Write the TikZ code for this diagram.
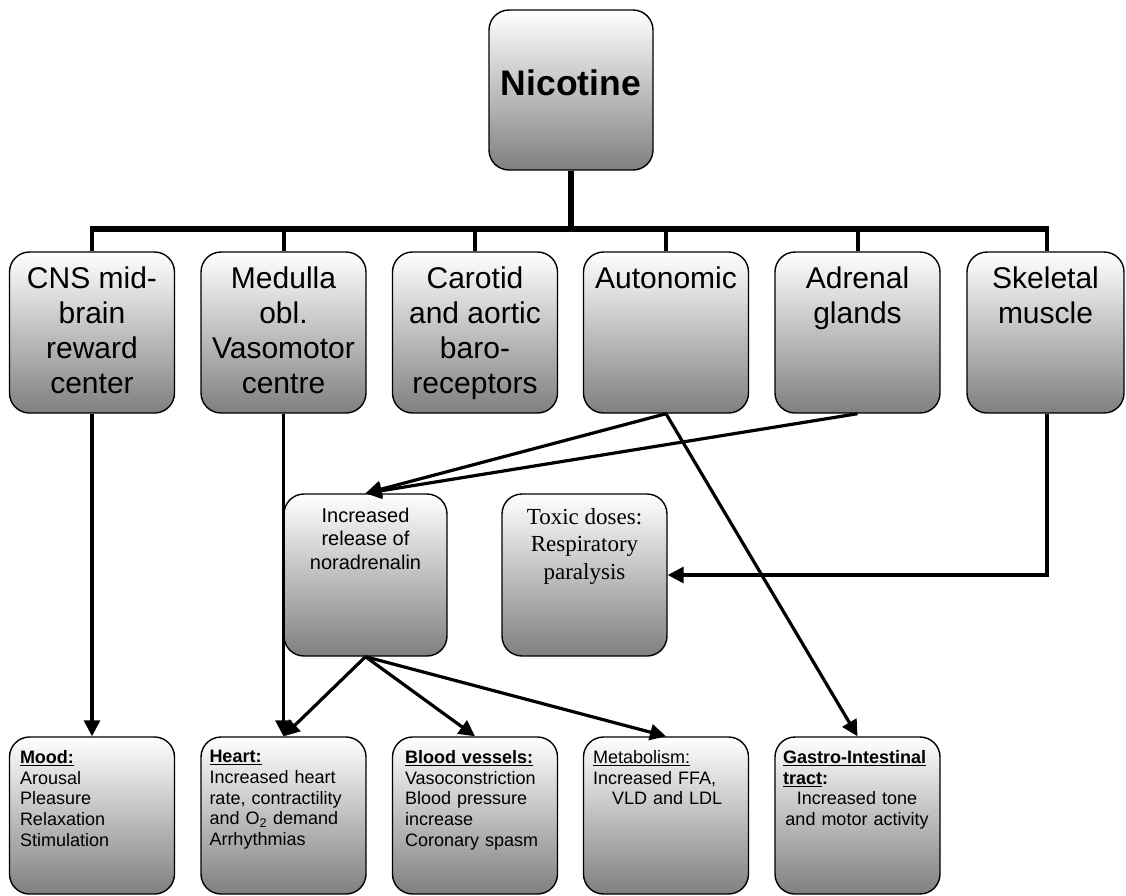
\documentclass[tikz,border=0pt]{standalone}
\usepackage{fontspec}
\setmainfont{Liberation Sans}
\newfontfamily\tnr{Liberation Serif}
\usetikzlibrary{arrows.meta}
\tikzset{
  box/.style={draw, line width=1.4pt, rounded corners=20pt, top color=white, middle color=black!14, bottom color=black!50, inner sep=0pt, minimum width=165pt},
  rowone/.style={box, minimum height=161pt},
  midbox/.style={box, minimum height=162pt},
  botbox/.style={box, minimum height=157pt},
  toptext/.style={anchor=north, inner sep=0pt, align=center, font=\fontsize{30}{35}\selectfont},
  bottext/.style={anchor=north west, inner sep=0pt, text width=148pt, align=left, font=\fontsize{18}{20.7}\selectfont},
  arr/.style={line width=3.2pt, -{Triangle[length=16pt,width=16pt]}},
  busline/.style={line width=6pt},
  branch/.style={line width=4pt},
}
\begin{document}
\begin{tikzpicture}[x=1pt,y=-1pt]
\useasboundingbox (0,0) rectangle (1126,895);
% top
\node[box, minimum width=164pt, minimum height=160pt] (nic) at (571,90) {};
\node[anchor=base, inner sep=0pt, font=\bfseries\fontsize{35.5}{40}\selectfont] (nictext) at (571,95) {Nicotine};
% row one
\node[rowone] (cns) at (92,332.5) {};
\node[rowone] (med) at (283.5,332.5) {};
\node[rowone] (car) at (475,332.5) {};
\node[rowone] (aut) at (666,332.5) {};
\node[rowone] (adr) at (857.5,332.5) {};
\node[rowone, minimum width=157pt] (skel) at (1045.5,332.5) {};
\node[toptext] (cnst) at ([yshift=-15pt]cns.north) {CNS mid-\\brain\\reward\\center};
\node[toptext] (medt) at ([yshift=-15pt]med.north) {Medulla\\obl.\\Vasomotor\\centre};
\node[toptext] (cart) at ([yshift=-15pt]car.north) {Carotid\\and aortic\\baro-\\receptors};
\node[toptext] (autt) at ([yshift=-15pt]aut.north) {Autonomic};
\node[toptext] (adrt) at ([yshift=-15pt]adr.north) {Adrenal\\glands};
\node[toptext] (skelt) at ([yshift=-15pt]skel.north) {Skeletal\\muscle};
% middle
\node[midbox, minimum width=163pt] (nor) at (365.5,575) {};
\node[midbox] (tox) at (584.5,575) {};
\node[anchor=north, inner sep=0pt, align=center, font=\fontsize{20}{23.3}\selectfont] (nort) at ([yshift=-14.5pt]nor.north) {Increased\\release of\\noradrenalin};
\node[anchor=north, inner sep=0pt, align=center, font=\tnr\fontsize{23}{27.5}\selectfont] (toxt) at ([yshift=-15pt]tox.north) {Toxic doses:\\Respiratory\\paralysis};
% bottom
\node[botbox] (mood) at (92,815.5) {};
\node[botbox] (heart) at (283.5,815.5) {};
\node[botbox] (blood) at (475,815.5) {};
\node[botbox] (meta) at (666,815.5) {};
\node[botbox] (gi) at (857.5,815.5) {};
\node[bottext] (moodt) at ([xshift=11pt,yshift=-14pt]mood.north west) {\textbf{\underline{Mood:}}\\Arousal\\Pleasure\\Relaxation\\Stimulation};
\node[bottext] (heartt) at ([xshift=9pt,yshift=-14pt]heart.north west) {\textbf{\underline{Heart:}}\\Increased heart\\rate, contractility\\and O\textsubscript{2} demand\\Arrhythmias};
\node[bottext] (bloodt) at ([xshift=13pt,yshift=-14pt]blood.north west) {\textbf{\underline{Blood vessels:}}\\Vasoconstriction\\Blood pressure\\increase\\Coronary spasm};
\node[bottext] (metat) at ([xshift=10pt,yshift=-14pt]meta.north west) {\underline{Metabolism:}\\Increased FFA,\\\hspace*{19pt}VLD and LDL};
\node[bottext] (git) at ([xshift=8.5pt,yshift=-14pt]gi.north west) {\textbf{\underline{Gastro-Intestinal}}\\\textbf{\underline{tract}:}\\\makebox[148pt]{Increased tone}\\\makebox[148pt]{and motor activity}};
% bus
\coordinate (bus) at (571,229);
\draw[busline] (nic.south) -- (bus);
\draw[busline] ([xshift=-2pt]cns.north |- bus) -- ([xshift=3.5pt]skel.north |- bus);
\draw[branch] (cns.north |- bus) -- (cns.north);
\draw[branch] (med.north |- bus) -- (med.north);
\draw[branch] (car.north |- bus) -- (car.north);
\draw[branch] (aut.north |- bus) -- (aut.north);
\draw[branch] (adr.north |- bus) -- (adr.north);
\draw[branch] ([xshift=1.5pt]skel.north |- bus) -- ([xshift=1.5pt]skel.north);
% arrows
\draw[arr] (cns.south) -- (mood.north);
\draw[arr] (med.south) -- (heart.north);
\draw[arr] (aut.south) -- (nor.north);
\draw[arr] (adr.south) -- (nor.north);
\draw[arr] (aut.south) -- (gi.north);
\draw[arr] ([xshift=1.5pt]skel.south) |- (tox.east);
\draw[arr] (nor.south) -- (heart.north);
\draw[arr] (nor.south) -- (blood.north);
\draw[arr] (nor.south) -- (meta.north);
\end{tikzpicture}
\end{document}
